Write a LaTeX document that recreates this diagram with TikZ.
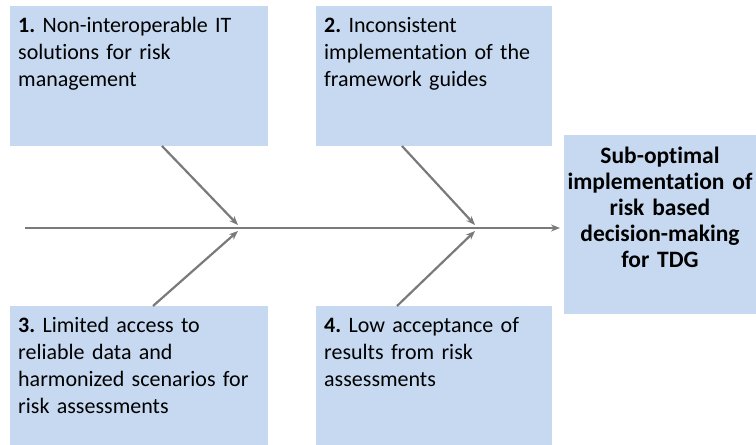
\documentclass[tikz,border=0pt]{standalone}
\usepackage{fontspec}
\setmainfont{Carlito}[Ligatures=NoCommon]
\usetikzlibrary{arrows.meta}
\definecolor{boxblue}{HTML}{C6D9F1}
\definecolor{bonegray}{HTML}{7A7A7A}
\begin{document}
\frenchspacing
\begin{tikzpicture}[x=1pt,y=-1pt,
  box/.style={fill=boxblue, draw=none, inner sep=0pt, anchor=north west},
  causetxt/.style={anchor=north west, inner sep=0pt, align=left, text width=250pt,
    font=\fontsize{22}{27}\selectfont\frenchspacing},
  efftxt/.style={anchor=north, inner sep=0pt, align=center, text width=190pt,
    font=\fontsize{23.5}{26}\selectfont\bfseries},
  bone/.style={draw=bonegray, line width=2.2pt, -{Stealth[length=9pt,width=7pt]}}]
\useasboundingbox (0,0) rectangle (756,445);
% boxes
\node[box, minimum width=258pt, minimum height=140pt] (b1) at (10,6) {};
\node[box, minimum width=236pt, minimum height=140pt] (b2) at (316,6) {};
\node[box, minimum width=258pt, minimum height=139pt] (b3) at (10,306) {};
\node[box, minimum width=236pt, minimum height=139pt] (b4) at (316,306) {};
\node[box, minimum width=192pt, minimum height=179pt] (eff) at (564,135) {};
% texts
\node[causetxt] (t1) at (18,17) {\textbf{1.} Non-interoperable IT\\solutions for risk\\management};
\node[causetxt] (t2) at (324,17) {\textbf{2.} Inconsistent\\implementation of the\\framework guides};
\node[causetxt] (t3) at (18,317) {\textbf{3.} Limited access to\\reliable data and\\harmonized scenarios for\\risk assessments};
\node[causetxt] (t4) at (324,317) {\textbf{4.} Low acceptance of\\results from risk\\assessments};
\node[efftxt] (te) at (660,147) {Sub-optimal\\implementation of\\risk based\\decision-making\\for TDG};
% coordinates
\coordinate (s0) at (25,228);
\coordinate (s1) at (560,228);
\coordinate (c1) at (162,146);
\coordinate (j1) at (238,225);
\coordinate (c2) at (402,146);
\coordinate (j2) at (475,225);
\coordinate (c3) at (153,306);
\coordinate (j3) at (238,231);
\coordinate (c4) at (397,306);
\coordinate (j4) at (475,231);
% spine and bones
\draw[bone] (s0) -- (s1);
\draw[bone] (c1) -- (j1);
\draw[bone] (c2) -- (j2);
\draw[bone] (c3) -- (j3);
\draw[bone] (c4) -- (j4);
\end{tikzpicture}
\end{document}
